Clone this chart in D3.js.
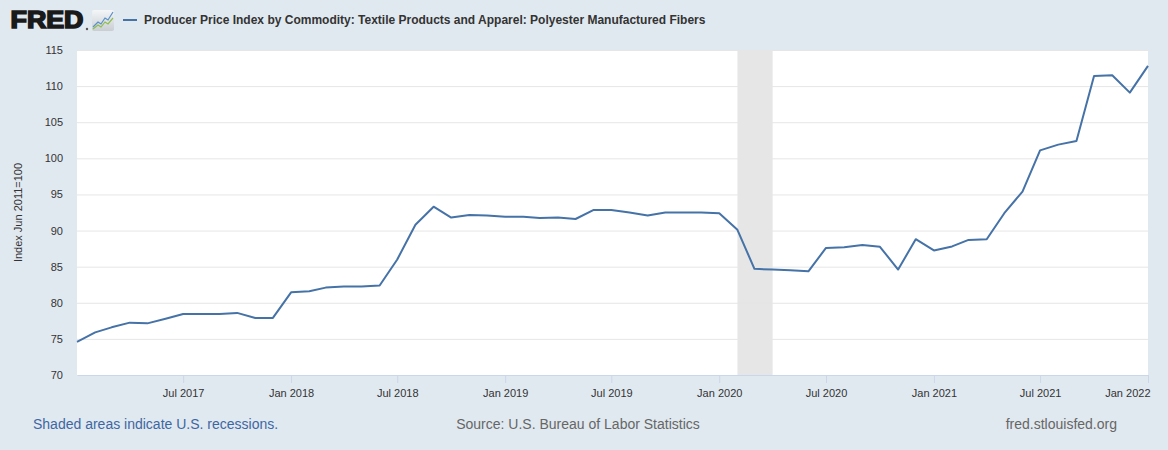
<!DOCTYPE html>
<html>
<head>
<meta charset="utf-8">
<script src="https://cdn.jsdelivr.net/npm/d3@7"></script>
<style>
  body { margin: 0; background: #e1e9f0; }
  svg { display: block; font-family: "Liberation Sans", Arial, sans-serif; }
</style>
</head>
<body>
<div id="chart"></div>
<script>
// monthly observations, Jan 2017 .. Jan 2022
const startMonth = '2017-01-01';
const values = [
    74.6, 75.9, 76.6, 77.25, 77.15, 77.8, 78.45, 78.45, 78.45, 78.6, 77.9, 77.9,
    81.45, 81.6, 82.1, 82.25, 82.25, 82.4, 86.0, 90.8, 93.3, 91.8, 92.15, 92.1,
    91.9, 91.9, 91.75, 91.8, 91.6, 92.85, 92.85, 92.5, 92.1, 92.5, 92.5, 92.5,
    92.4, 90.1, 84.7, 84.6, 84.5, 84.35, 87.6, 87.7, 88.0, 87.75, 84.6, 88.8,
    87.25, 87.8, 88.7, 88.8, 92.4, 95.4, 101.1, 101.9, 102.4, 111.4, 111.5, 109.1,
    112.8
];
const recessions = [['2020-02-01', '2020-04-01']];
const yTicks = [70, 75, 80, 85, 90, 95, 100, 105, 110, 115];
const xTickDates = ['2017-07-01', '2018-01-01', '2018-07-01', '2019-01-01', '2019-07-01',
    '2020-01-01', '2020-07-01', '2021-01-01', '2021-07-01', '2022-01-01'];

const seriesTitle = 'Producer Price Index by Commodity: Textile Products and Apparel: Polyester Manufactured Fibers';
const yTitle = 'Index Jun 2011=100';

const parse = d3.utcParse('%Y-%m-%d');
const t0 = parse(startMonth);
const data = values.map((v, i) => ({date: d3.utcMonth.offset(t0, i), value: v}));

const W = 1168, H = 450;
const margin = ({top: 50, right: 20, bottom: 75, left: 77});

const svg = d3.select('#chart')
    .append('svg')
    .attr('width', W)
    .attr('height', H);

const xScale = d3.scaleUtc()
    .domain(d3.extent(data, d => d.date))
    .range([margin.left, W - margin.right]);

const yScale = d3.scaleLinear()
    .domain([70, 115])
    .range([H - margin.bottom, margin.top]);

// plot background
svg.append('rect')
    .attr('x', margin.left)
    .attr('y', margin.top)
    .attr('width', W - margin.right - margin.left)
    .attr('height', H - margin.bottom - margin.top)
    .attr('fill', 'white');

// recession shading
svg.selectAll('.recession')
    .data(recessions)
    .enter()
    .append('rect')
    .attr('class', 'recession')
    .attr('x', d => xScale(parse(d[0])))
    .attr('width', d => xScale(parse(d[1])) - xScale(parse(d[0])))
    .attr('y', margin.top)
    .attr('height', H - margin.bottom - margin.top)
    .attr('fill', '#e6e6e6');

// y axis with grid
const yAxis = d3.axisLeft(yScale)
    .tickValues(yTicks)
    .tickSize(0)
    .tickPadding(14);

svg.append('g')
    .attr('class', 'axis y-axis')
    .attr('transform', `translate(${margin.left},0)`)
    .call(yAxis)
    .call(g => g.select('.domain').remove())
    .call(g => g.selectAll('.tick line').clone()
        .attr('x2', W - margin.right - margin.left)
        .attr('stroke', '#e6e6e6'))
    .call(g => g.selectAll('.tick').filter(d => d === 70).select('line:last-of-type').remove())
    .call(g => g.selectAll('text')
        .attr('fill', '#333')
        .attr('font-size', 11)
        .attr('font-family', '"Liberation Sans", Arial, sans-serif'));

// x axis
const xAxis = d3.axisBottom(xScale)
    .tickValues(xTickDates.map(parse))
    .tickFormat(d3.utcFormat('%b %Y'))
    .tickSizeInner(8)
    .tickSizeOuter(0)
    .tickPadding(6);

svg.append('g')
    .attr('class', 'axis x-axis')
    .attr('transform', `translate(0,${H - margin.bottom})`)
    .call(xAxis)
    .call(g => g.select('.domain').attr('stroke', '#ccd6eb'))
    .call(g => g.selectAll('.tick line').attr('stroke', '#ccd6eb'))
    .call(g => g.selectAll('text')
        .attr('fill', '#333')
        .attr('font-size', 11)
        .attr('font-family', '"Liberation Sans", Arial, sans-serif'))
    .call(g => g.selectAll('.tick:last-of-type text').attr('text-anchor', 'end').attr('dx', 2));

// y title
svg.append('text')
    .attr('transform', `translate(22,${(margin.top + H - margin.bottom) / 2}) rotate(-90)`)
    .attr('text-anchor', 'middle')
    .attr('font-size', 11)
    .attr('fill', '#333')
    .text(yTitle);

// the series
const line = d3.line()
    .x(d => xScale(d.date))
    .y(d => yScale(d.value));

svg.append('path')
    .datum(data)
    .attr('d', line)
    .attr('fill', 'none')
    .attr('stroke', '#4572a7')
    .attr('stroke-width', 2)
    .attr('stroke-linejoin', 'round');

// header: logo + legend
const logo = svg.append('g');
logo.append('text')
    .attr('x', 10.5)
    .attr('y', 28)
    .attr('font-size', 24)
    .attr('font-weight', 'bold')
    .attr('textLength', 73)
    .attr('lengthAdjust', 'spacingAndGlyphs')
    .attr('fill', '#1a1a1a')
    .attr('stroke', '#1a1a1a')
    .attr('stroke-width', 1.6)
    .attr('stroke-linejoin', 'miter')
    .text('FRED');
logo.append('circle').attr('cx', 87).attr('cy', 29).attr('r', 1.2).attr('fill', '#555');
const grad = svg.append('defs').append('linearGradient')
    .attr('id', 'icon-bg').attr('x1', 0).attr('y1', 0).attr('x2', 0).attr('y2', 1);
grad.append('stop').attr('offset', 0).attr('stop-color', '#f4f6f8');
grad.append('stop').attr('offset', 1).attr('stop-color', '#c9ced3');
logo.append('rect')
    .attr('x', 92).attr('y', 10).attr('width', 22).attr('height', 21).attr('rx', 2)
    .attr('fill', 'url(#icon-bg)');
logo.append('path')
    .attr('d', 'M93,27 L98,22 L101,24 L105,18 L108,20 L113,12')
    .attr('fill', 'none').attr('stroke', '#5a8fc8').attr('stroke-width', 1.2);
logo.append('path')
    .attr('d', 'M93,29 L98,25 L101,27 L105,22 L108,24 L113,18')
    .attr('fill', 'none').attr('stroke', '#8fbf4a').attr('stroke-width', 1.2);

svg.append('line')
    .attr('x1', 123).attr('x2', 137)
    .attr('y1', 20).attr('y2', 20)
    .attr('stroke', '#4572a7')
    .attr('stroke-width', 2);
svg.append('text')
    .attr('x', 144)
    .attr('y', 24)
    .attr('font-size', 12)
    .attr('font-weight', 'bold')
    .attr('fill', '#333')
    .text(seriesTitle);

// footer
svg.append('text')
    .attr('x', 33).attr('y', 429)
    .attr('font-size', 14)
    .attr('fill', '#3d67a3')
    .text('Shaded areas indicate U.S. recessions.');
svg.append('text')
    .attr('x', 578).attr('y', 429)
    .attr('text-anchor', 'middle')
    .attr('font-size', 14)
    .attr('fill', '#666')
    .text('Source: U.S. Bureau of Labor Statistics');
svg.append('text')
    .attr('x', 1117).attr('y', 429)
    .attr('text-anchor', 'end')
    .attr('font-size', 14)
    .attr('fill', '#666')
    .text('fred.stlouisfed.org');
</script>
</body>
</html>
